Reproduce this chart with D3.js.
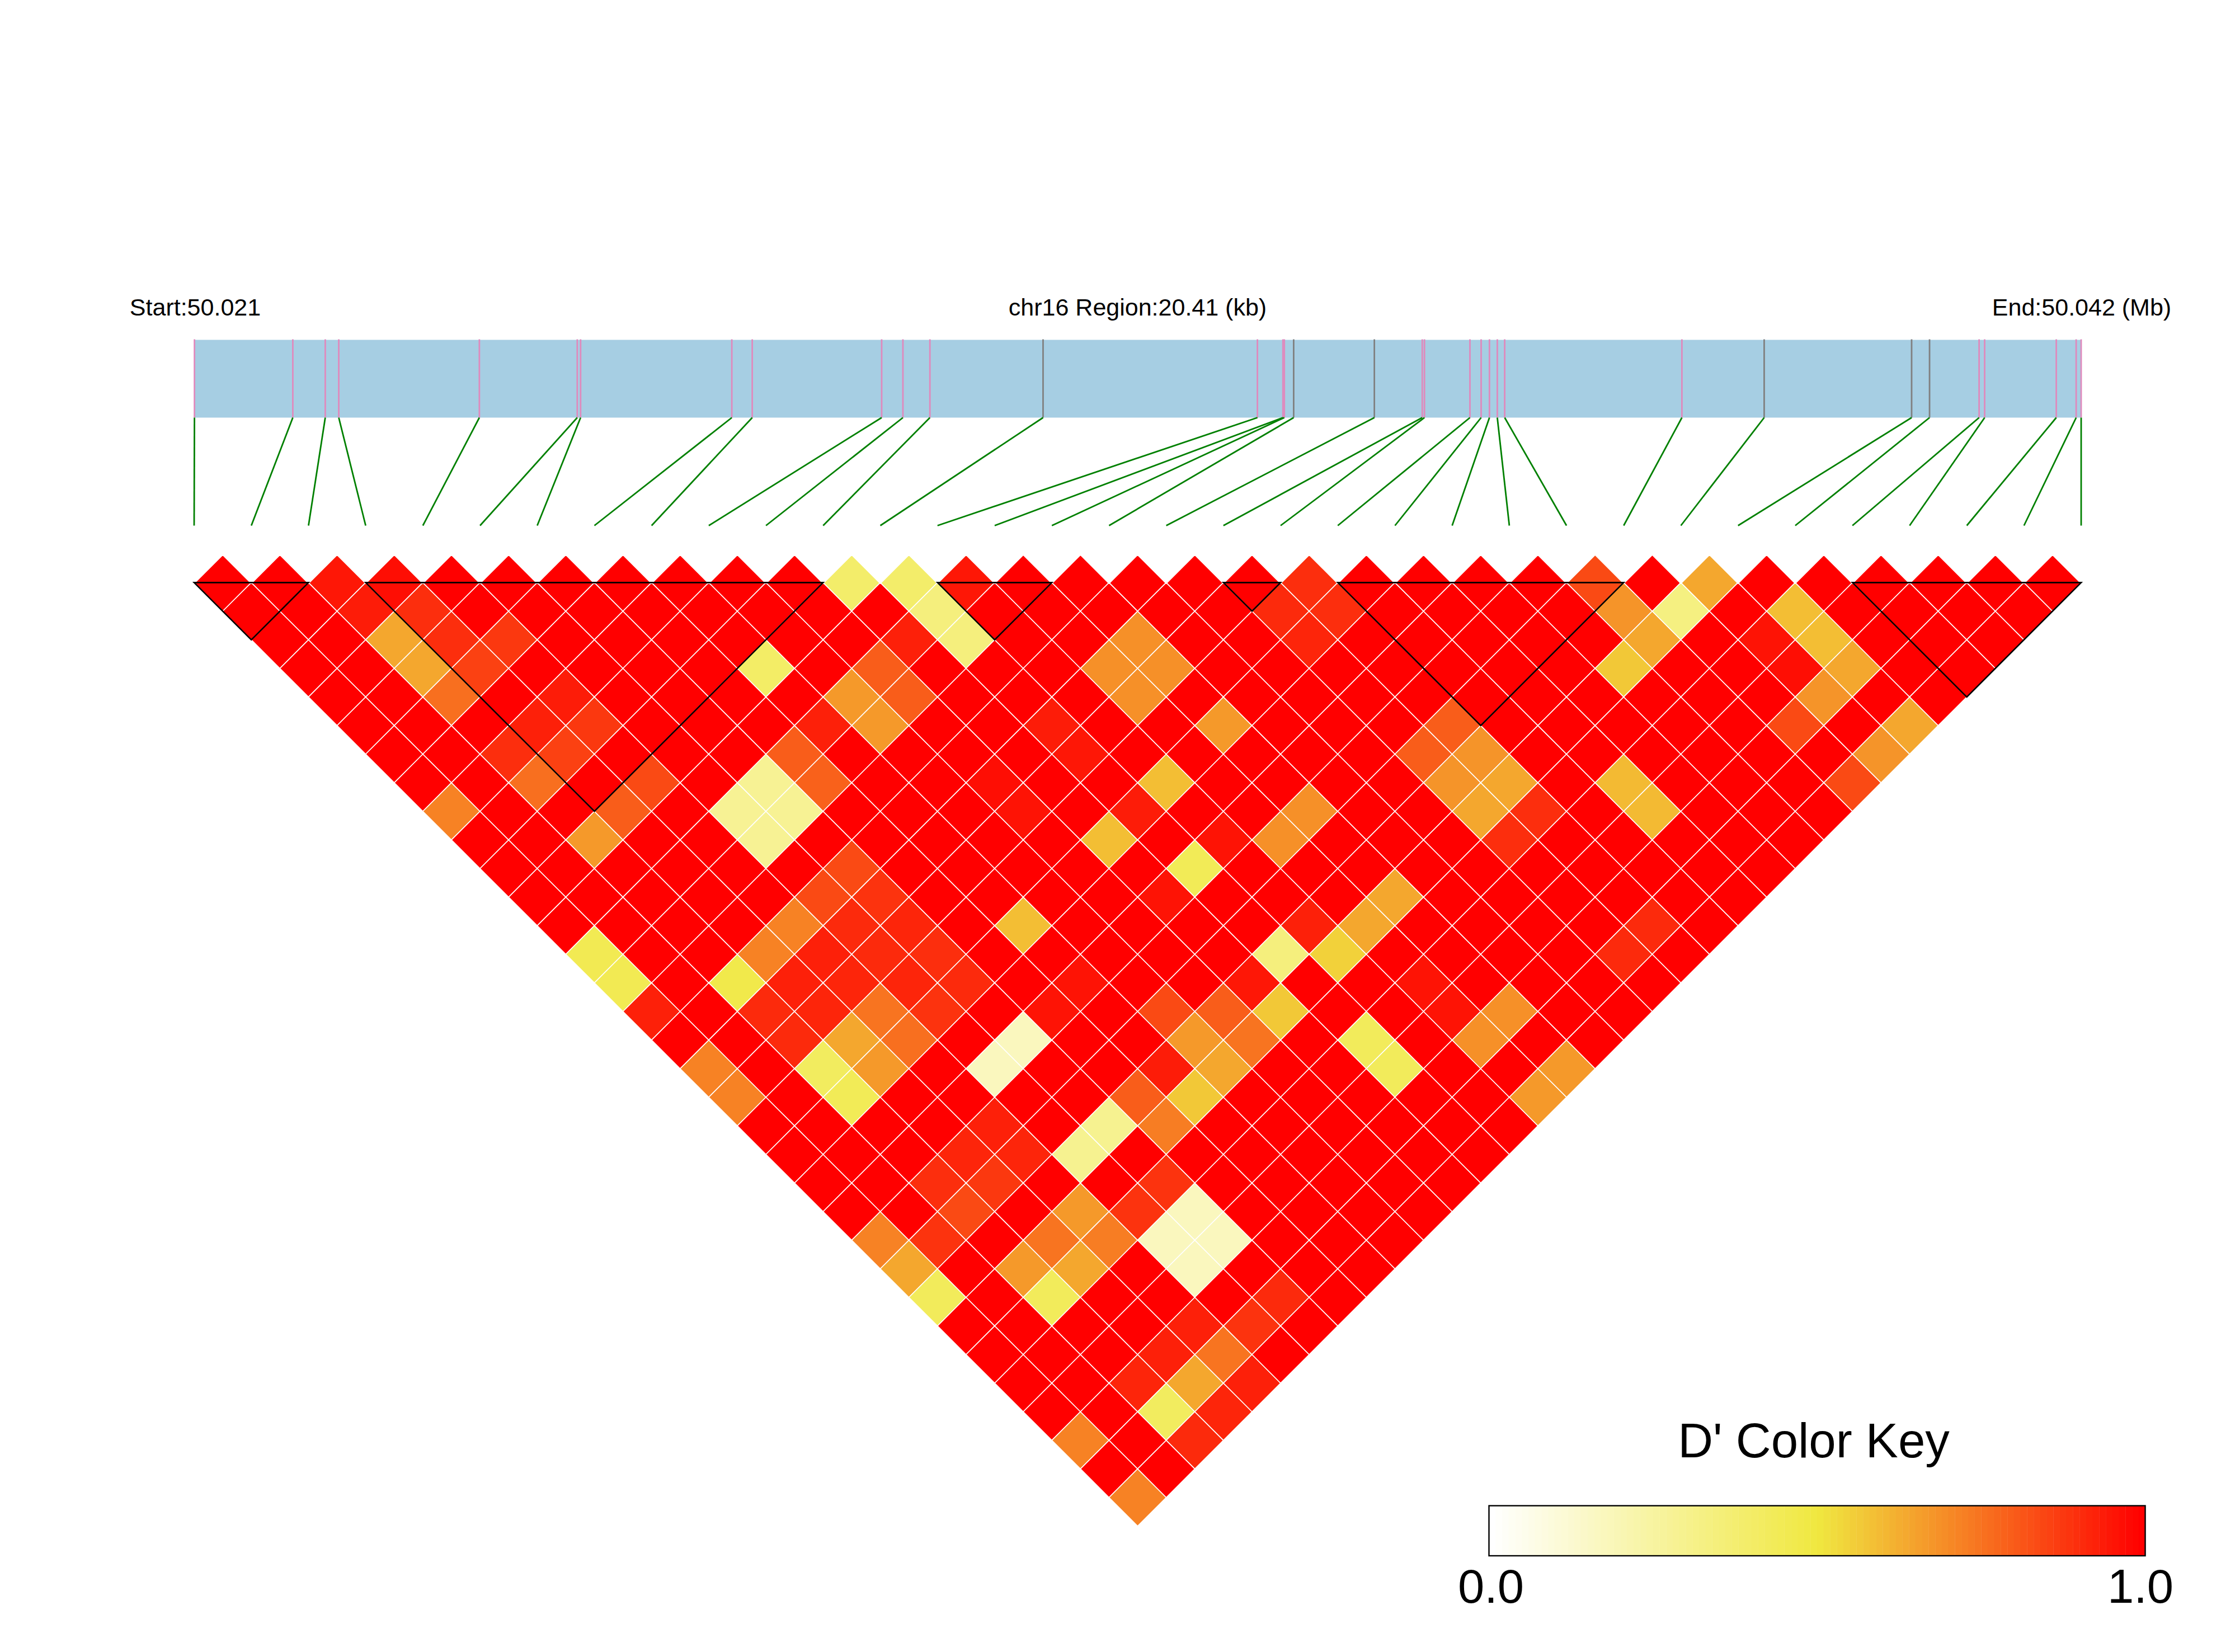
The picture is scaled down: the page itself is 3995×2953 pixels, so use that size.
<!DOCTYPE html>
<html>
<head>
<meta charset="utf-8">
<script src="https://cdn.jsdelivr.net/npm/d3@7"></script>
<style>html,body{margin:0;padding:0;background:#fff}svg{display:block}text{font-family:"Liberation Sans",Arial,sans-serif;fill:#000}</style>
</head>
<body>
<script>
// SNP positions, kb from region start
const snpPosKb = [0,1.064,1.415,1.561,3.082,4.141,4.177,5.813,6.034,7.434,7.664,7.956,9.180,11.499,11.775,11.790,11.891,12.764,13.282,13.306,13.798,13.919,14.009,14.094,14.174,16.091,16.981,18.576,18.770,19.306,19.366,20.141,20.356,20.41];
// SNPs whose gene-bar tick is grey (all others pink)
const greySnps = [12,16,17,26,27,28];
// D' pairs below 1.0, as [snpA, snpB, D']; every other pair reads as 1.0
const pairsBelowOne = [
[2,3,.95],[3,4,.97],[2,4,.94],[3,5,.90],[2,5,.64],[3,6,.90],[4,7,.88],[2,6,.64],[3,7,.86],[2,7,.76],
[8,12,.40],[4,9,.94],[3,9,.93],[4,10,.88],[2,9,.90],[3,10,.86],[2,10,.76],[4,12,.84],[3,12,.80],[0,9,.72],[2,12,.67],
[6,14,.28],[5,14,.28],[6,15,.28],[5,15,.28],[7,14,.80],[7,15,.79],[9,14,.67],[9,15,.67],[8,14,.93],[10,14,.80],[10,15,.80],
[6,17,.84],[5,17,.84],[4,17,.72],[3,17,.72],[4,18,.93],[0,14,.45],[0,15,.45],[2,17,.47],[0,16,.93],
[2,18,.91],[3,18,.93],[3,19,.92],[2,19,.91],[3,20,.64],[0,18,.72],[0,19,.72],[4,20,.75],[5,21,.89],[4,21,.76],
[6,23,.17],[5,23,.17],[2,20,.42],[3,21,.67],[2,21,.44],[7,23,.96],[9,25,.84],[10,26,.80],[9,26,.67],[9,27,.64],
[7,26,.80],[8,27,.57],[6,26,.29],[7,27,.73],[5,26,.29],[4,24,.93],[3,24,.92],[4,25,.92],[2,24,.90],[3,25,.88],
[6,28,.89],[4,27,.67],[5,28,.89],[3,27,.75],[4,28,.73],[6,29,.17],[5,29,.17],[6,30,.17],[5,30,.17],
[2,25,.84],[1,25,.89],[0,24,.72],[0,25,.64],[2,27,.67],[3,28,.64],[0,26,.43],[2,28,.43],
[4,31,.93],[3,31,.93],[2,31,.92],[4,32,.75],[3,32,.64],[2,32,.42],[3,33,.92],[0,31,.72],[2,33,.91],[0,33,.72],
[6,32,.91],[5,32,.89],[4,33,.93],
[11,12,.39],[12,13,.39],[13,14,.95],[19,20,.90],[12,14,.34],[18,20,.91],[19,21,.90],[12,15,.34],[11,14,.93],[15,18,.69],[18,21,.92],
[14,18,.69],[15,19,.69],[14,19,.69],[12,18,.94],[15,21,.67],[12,19,.95],[19,25,.80],[18,25,.80],[18,26,.68],[13,21,.59],
[15,24,.69],[14,24,.69],[10,18,.97],[10,19,.96],[12,21,.94],[11,21,.59],[13,23,.96],[12,23,.44],[6,18,.89],[11,23,.96],
[15,27,.64],[5,18,.91],[6,19,.92],[8,21,.59],[13,26,.93],[14,27,.64],[5,19,.91],[6,20,.90],[12,26,.34],[13,27,.55],
[4,19,.92],[5,20,.92],[6,21,.91],[8,23,.96],[11,26,.95],[11,27,.57],[12,29,.43],[12,30,.43],[10,27,.75],[14,30,.96],
[15,31,.69],[14,31,.69],[8,26,.94],[15,33,.67],[14,33,.67],[14,29,.96],
[24,25,.84],[26,27,.64],[24,26,.68],[25,27,.33],[27,29,.59],[24,27,.64],[27,30,.59],[26,29,.96],[23,27,.57],[27,31,.64],
[26,30,.97],[26,31,.68],[25,31,.84],[27,33,.64],[26,33,.68],[19,26,.68],[19,27,.64],[21,29,.60],[25,33,.84],[18,27,.64],
[19,28,.90],[21,30,.60],[18,28,.90],[19,32,.91],[18,32,.91]
];
// LD blocks [first SNP, last SNP]
const ldBlocks = [[0,2],[3,11],[13,15],[18,19],[20,25],[29,33]];
const colorStops = [0,0.5,1];
const colorValues = ["#ffffff","#f0e840","#ff0000"];
const keySteps = d3.range(100);
const keyTickLabels = ["0.0","1.0"];
const labels = {start:"Start:50.021", mid:"chr16 Region:20.41 (kb)", end:"End:50.042 (Mb)", key:"D' Color Key"};
const regionKb = 20.41;

const W=3995,H=2953;
const svg=d3.select("body").append("svg").attr("width",W).attr("height",H).attr("viewBox",[0,0,W,H]);
svg.append("rect").attr("width",W).attr("height",H).attr("fill","#fff");

const n=snpPosKb.length;
const xLeft=347,xRight=3720;
const genomeX=d3.scaleLinear().domain([0,regionKb]).range([xLeft+0.6,xRight]);
const snpX=d3.scalePoint().domain(d3.range(n)).range([xLeft,xRight]);
const step=snpX.step();
// lag (snpB-snpA) to vertical position of the cell centre
const lagY=d3.scaleLinear().domain([1,n-1]).range([1041.4,1041.4+(n-2)*step/2]);
const color=d3.scaleLinear().domain(colorStops).range(colorValues);

// titles
const topText=[[labels.start,xLeft+2],[labels.mid,(xLeft+xRight)/2],[labels.end,xRight+1]];
svg.selectAll("text.top").data(topText).join("text").attr("class","top")
  .attr("x",d=>d[1]).attr("y",564).attr("text-anchor","middle").attr("font-size",43).text(d=>d[0]);

// gene bar
const barTop=607.5,barBottom=746.5,linkBottom=939.5;
svg.append("rect").attr("x",genomeX(0)).attr("y",barTop).attr("width",genomeX(regionKb)-genomeX(0)).attr("height",barBottom-barTop).attr("fill","#a6cee3");
svg.append("g").selectAll("line").data(snpPosKb).join("line")
  .attr("x1",d=>genomeX(d)).attr("x2",d=>genomeX(d)).attr("y1",barTop-1).attr("y2",barBottom)
  .attr("stroke",(d,i)=>greySnps.includes(i)?"#808080":"#df8abd").attr("stroke-width",2.8);
svg.append("g").selectAll("line").data(snpPosKb).join("line")
  .attr("x1",d=>genomeX(d)).attr("y1",barBottom).attr("x2",(d,i)=>snpX(i)).attr("y2",linkBottom)
  .attr("stroke","#008000").attr("stroke-width",2.8);

// LD cells
const lookup=new Map(pairsBelowOne.map(p=>[p[0]+"-"+p[1],p[2]]));
const cells=[];
for(let a=0;a<n;a++)for(let b=a+1;b<n;b++)cells.push({a,b,v:lookup.has(a+"-"+b)?lookup.get(a+"-"+b):1});
const half=step/2;
svg.append("g").selectAll("path").data(cells).join("path")
  .attr("d",c=>{const cx=(snpX(c.a)+snpX(c.b))/2,cy=lagY(c.b-c.a);
    return `M${cx},${cy-half}L${cx+half},${cy}L${cx},${cy+half}L${cx-half},${cy}Z`;})
  .attr("fill",c=>color(c.v)).attr("stroke","#fff").attr("stroke-width",1.6);

// the outer upper edges of the first row carry a wider white margin
const zigzag=d3.line();
const zigPts=[];
d3.range(n).forEach(i=>{zigPts.push([snpX(i),lagY(1)]);if(i<n-1)zigPts.push([snpX(i)+half,lagY(1)-half]);});
svg.append("path").attr("d",zigzag(zigPts)).attr("fill","none").attr("stroke","#fff").attr("stroke-width",4).attr("stroke-linejoin","miter");

// LD block outlines
svg.append("g").selectAll("path").data(ldBlocks).join("path")
  .attr("d",([a,b])=>{const y0=lagY(1);
    return `M${snpX(a)},${y0}L${snpX(b)},${y0}L${(snpX(a)+snpX(b))/2},${y0+(b-a)*half}Z`;})
  .attr("fill","none").attr("stroke","#000").attr("stroke-width",2.6).attr("stroke-linejoin","miter");

// colour key
const keyL=2661.5,keyR=3834.5,keyT=2691.5,keyB=2781;
const keyX=d3.scaleBand().domain(keySteps).range([keyL,keyR]);
svg.append("g").selectAll("rect").data(keySteps).join("rect")
  .attr("x",d=>keyX(d)).attr("y",keyT).attr("width",keyX.bandwidth()+0.4).attr("height",keyB-keyT)
  .attr("fill",d=>color(d/(keySteps.length-1)));
svg.append("rect").attr("x",keyL).attr("y",keyT).attr("width",keyR-keyL).attr("height",keyB-keyT)
  .attr("fill","none").attr("stroke","#000").attr("stroke-width",2.4);
svg.append("text").attr("x",3242).attr("y",2605).attr("text-anchor","middle").attr("font-size",87).text(labels.key);
svg.selectAll("text.keytick").data(keyTickLabels).join("text").attr("class","keytick")
  .attr("x",(d,i)=>i?3826:2665).attr("y",2865).attr("text-anchor","middle").attr("font-size",85).text(d=>d);
</script>
</body>
</html>
